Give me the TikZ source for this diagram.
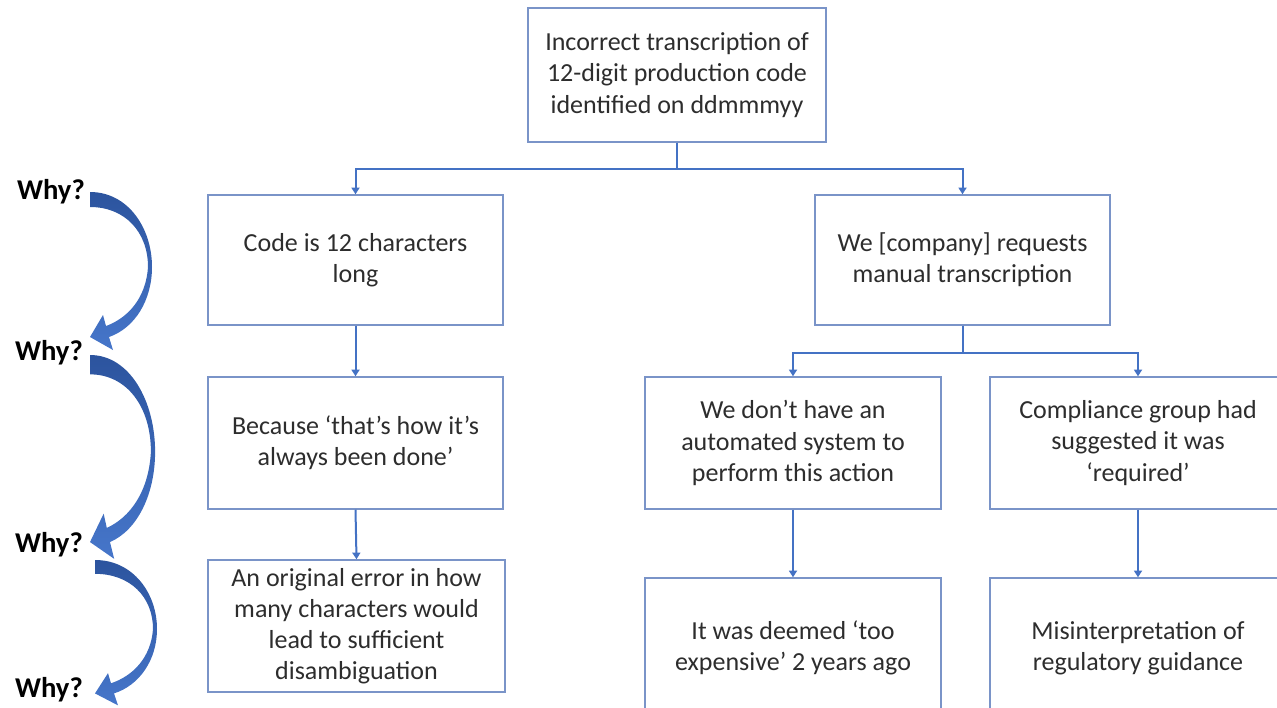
\documentclass[tikz,border=0pt]{standalone}
\usepackage{fontspec}
\setmainfont{Carlito}
\usetikzlibrary{arrows.meta}

\definecolor{boxline}{RGB}{122,148,200}
\definecolor{connblue}{RGB}{68,114,196}
\definecolor{txtgray}{RGB}{45,45,45}
\definecolor{arrdark}{RGB}{44,84,158}
\definecolor{arrlight}{RGB}{70,118,202}

% curved "why" arrow: #1,#2 start point, #3 xscale, #4 yscale
\newcommand\whyarrow[4]{%
  \shade[top color=arrdark,bottom color=arrlight,shift={(#1,#2)},xscale=#3,yscale=#4]
    (0,0) .. controls (38,0) and (62,36) .. (62,75)
          .. controls (62,108) and (45,136) .. (19,145)
    -- (23,158) -- (0,145) -- (13,123) -- (16,134)
          .. controls (38,126) and (56,106) .. (58,75)
          .. controls (58,40) and (35,15) .. (0,15) -- cycle;}

\begin{document}
\begin{tikzpicture}[x=0.75pt,y=-0.75pt,
  box/.style n args={2}{draw=boxline,line width=1.1pt,fill=white,align=center,
    text=txtgray,font=\fontsize{19.5}{23.4}\selectfont,inner sep=0pt,
    minimum width=#1*0.75pt,minimum height=#2*0.75pt},
  why/.style={font=\fontsize{21.5}{24}\selectfont\bfseries,text=black,inner sep=0pt},
  conn/.style={draw=connblue,line width=1.5pt},
  arr/.style={conn,-{Triangle[width=6pt,length=5pt]}}]

\useasboundingbox (0,0) rectangle (1277,707);
\clip (0,0) rectangle (1277,707);

% boxes
\node[box={298}{134}] (top) at (677,75)
  {Incorrect transcription of\\12-digit production code\\identified on ddmmmyy};
\node[box={295}{130}] (l1) at (355.5,260) {Code is 12 characters\\long};
\node[box={295}{130}] (r1) at (962.5,260) {We [company] requests\\manual transcription};
\node[box={295}{132}] (l2) at (355.5,443) {Because ‘that’s how it’s\\always been done’};
\node[box={296}{132}] (m2) at (793,443) {We don’t have an\\automated system to\\perform this action};
\node[box={296}{132}] (r2) at (1138,443) {Compliance group had\\suggested it was\\‘required’};
\node[box={297}{132}] (l3) at (356.5,626)
  {An original error in how\\many characters would\\lead to sufficient\\disambiguation};
\node[box={296}{140}] (m3) at (793,648) {It was deemed ‘too\\expensive’ 2 years ago};
\node[box={296}{140}] (r3) at (1138,648) {Misinterpretation of\\regulatory guidance};

% connectors
\draw[arr] (top.south) -- ++(0,26) -| (l1.north);
\draw[arr] (top.south) -- ++(0,26) -| (r1.north);
\draw[arr] (l1.south) -- (l2.north);
\draw[arr] (r1.south) -- ++(0,27) -| (m2.north);
\draw[arr] (r1.south) -- ++(0,27) -| (r2.north);
\draw[arr] (l2.south) -- (l3.north);
\draw[arr] (m2.south) -- (m3.north);
\draw[arr] (r2.south) -- (r3.north);

% why labels and curved arrows
\node[why] (w1) at (51,192) {Why?};
\node[why] (w2) at (49,353) {Why?};
\node[why] (w3) at (49,545) {Why?};
\node[why] (w4) at (49,690) {Why?};
\whyarrow{90}{192}{1}{1}
\whyarrow{90}{355}{1.05}{1.29}
\whyarrow{95}{560}{1}{0.92}
\end{tikzpicture}
\end{document}
